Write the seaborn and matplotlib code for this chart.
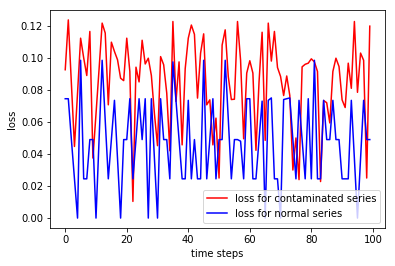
import numpy as np
import pandas as pd
import matplotlib
matplotlib.use("Agg")
import matplotlib.pyplot as plt
import seaborn as sns

# loss values, one per time step
contaminated_loss = [
    0.0926, 0.1237, 0.0840, 0.0447, 0.0780, 0.1123, 0.1000, 0.0890, 0.1165, 0.0375,
    0.0650, 0.0930, 0.1217, 0.1155, 0.0707, 0.1098, 0.1040, 0.0988, 0.0873, 0.0858,
    0.1123, 0.0915, 0.0104, 0.0942, 0.0850, 0.1110, 0.0962, 0.0998, 0.0890, 0.0650,
    0.0452, 0.1008, 0.0957, 0.0780, 0.0420, 0.1227, 0.0728, 0.0975, 0.0457, 0.0933,
    0.1123, 0.1205, 0.1147, 0.0749, 0.1030, 0.1150, 0.0707, 0.0738, 0.0457, 0.0624,
    0.0250, 0.1080, 0.1175, 0.0884, 0.0740, 0.0742, 0.1227, 0.0985, 0.0495, 0.0905,
    0.0982, 0.0905, 0.0423, 0.0850, 0.1160, 0.0485, 0.1217, 0.0980, 0.1165, 0.0940,
    0.0884, 0.0765, 0.0887, 0.0765, 0.0300, 0.0500, 0.0240, 0.0944, 0.0960, 0.0967,
    0.0994, 0.0975, 0.0915, 0.0228, 0.0734, 0.0720, 0.0594, 0.0915, 0.0998, 0.0946,
    0.0738, 0.0690, 0.0967, 0.0810, 0.1227, 0.0785, 0.1030, 0.0985, 0.0250, 0.1198,
]
normal_loss = [
    0.0745, 0.0745, 0.0490, 0.0245, 0.0000, 0.0985, 0.0245, 0.0245, 0.0490, 0.0490,
    0.0000, 0.0490, 0.0985, 0.0610, 0.0245, 0.0490, 0.0735, 0.0370, 0.0000, 0.0490,
    0.0490, 0.0745, 0.0245, 0.0490, 0.0745, 0.0490, 0.0745, 0.0000, 0.0745, 0.0370,
    0.0000, 0.0745, 0.0490, 0.0490, 0.0245, 0.0975, 0.0735, 0.0490, 0.0245, 0.0245,
    0.0735, 0.0245, 0.0490, 0.0245, 0.0245, 0.0985, 0.0245, 0.0490, 0.0745, 0.0245,
    0.0490, 0.0490, 0.0985, 0.0620, 0.0245, 0.0490, 0.0490, 0.0480, 0.0245, 0.0745,
    0.0745, 0.0245, 0.0245, 0.0490, 0.0730, 0.0000, 0.0735, 0.0750, 0.0245, 0.0245,
    0.0000, 0.0740, 0.0745, 0.0750, 0.0490, 0.0245, 0.0735, 0.0490, 0.0245, 0.0745,
    0.0245, 0.0985, 0.0245, 0.0245, 0.0735, 0.0490, 0.0490, 0.0735, 0.0490, 0.0490,
    0.0245, 0.0245, 0.0245, 0.0735, 0.0370, 0.0000, 0.0370, 0.0735, 0.0490, 0.0490,
]
time_steps = list(range(len(contaminated_loss)))

df = pd.DataFrame({
    "step": time_steps,
    "contaminated": contaminated_loss,
    "normal": normal_loss,
})

fig, ax = plt.subplots(figsize=(395 / 72, 266 / 72), dpi=72)
fig.subplots_adjust(left=0.1266, right=0.9747, bottom=0.1429, top=0.9624)

sns.lineplot(data=df, x="step", y="contaminated", color="red", lw=1.5,
             label="loss for contaminated series", ax=ax)
sns.lineplot(data=df, x="step", y="normal", color="blue", lw=1.5,
             label="loss for normal series", ax=ax)

ax.set_xlabel("time steps")
ax.set_ylabel("loss")
ax.set_xticks([0, 20, 40, 60, 80, 100])
ax.legend(loc="lower right")

fig.savefig("out.png", dpi=72)
